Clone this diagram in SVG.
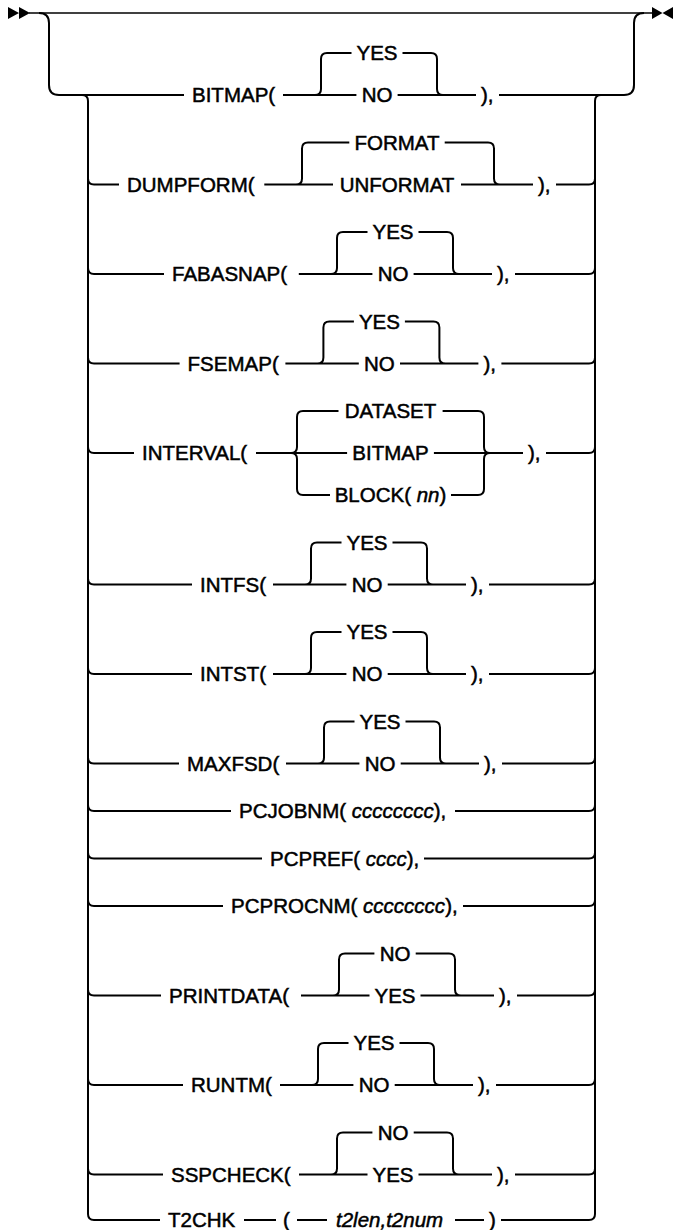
<svg xmlns="http://www.w3.org/2000/svg" width="673" height="1230" viewBox="0 0 673 1230">
<style>
.l{fill:none;stroke:#000;stroke-width:2}
.m{fill:#000}
text{font-family:"Liberation Sans",Arial,sans-serif;font-size:20.5px;font-weight:normal;fill:#000;stroke:#000;stroke-width:0.5px}
.i{font-style:italic}
.c{text-anchor:middle}
</style>
<rect width="673" height="1230" fill="#fff"/>
<g id="connectors">
<path class="m" d="M8 7L19 13L8 19Z M19 7L30 13L19 19Z"/>
<path class="m" d="M652 7L662.5 13L652 19Z M673 7L662.5 13L673 19Z"/>
<path class="l" style="stroke-width:1.6" d="M29 13H653"/>
<path class="l" d="M39 13Q49 13 49 23V85Q49 95 59 95H184"/>
<path class="l" d="M499 95H624Q634 95 634 85V23Q634 13 644 13"/>
<path class="l" d="M82 95Q88 95 88 101V1214Q88 1220 94 1220"/>
<path class="l" d="M601 95Q595 95 595 101V1214Q595 1220 589 1220"/>
<!-- BITMAP -->
<path class="l" d="M283 95H356.4M397.6 95H476M315 95Q321 95 321 89V59Q321 53 327 53H351.5M402.5 53H431Q437 53 437 59V89Q437 95 443 95"/>
<!-- DUMPFORM -->
<path class="l" d="M88 178.5Q88 184.5 94 184.5H119M264.3 184.5H333M461 184.5H533M296 184.5Q302 184.5 302 178.5V148.5Q302 142.5 308 142.5H349.3M444.7 142.5H488Q494 142.5 494 148.5V178.5Q494 184.5 500 184.5M556 184.5H589Q595 184.5 595 178.5"/>
<!-- FABASNAP -->
<path class="l" d="M88 268Q88 274 94 274H164M298.8 274H372.4M413.6 274H492M331 274Q337 274 337 268V238Q337 232 343 232H367.5M418.5 232H447Q453 232 453 238V268Q453 274 459 274M515 274H589Q595 274 595 268"/>
<!-- FSEMAP -->
<path class="l" d="M88 357.5Q88 363.5 94 363.5H179.6M285.4 363.5H358.8M400 363.5H478.4M317.4 363.5Q323.4 363.5 323.4 357.5V327.5Q323.4 321.5 329.4 321.5H353.9M404.9 321.5H433.4Q439.4 321.5 439.4 327.5V357.5Q439.4 363.5 445.4 363.5M501.4 363.5H589Q595 363.5 595 357.5"/>
<!-- INTERVAL -->
<path class="l" d="M88 447Q88 453 94 453H134M256 453H347.1M433.9 453H523M291 453Q297 453 297 447V417Q297 411 303 411H338.5M291 453Q297 453 297 459V489Q297 495 303 495H330M442.6 411H478Q484 411 484 417V447Q484 453 490 453M451 495H478Q484 495 484 489V459Q484 453 490 453M546 453H589Q595 453 595 447"/>
<!-- INTFS -->
<path class="l" d="M88 578.5Q88 584.5 94 584.5H192M273 584.5H346.4M387.7 584.5H466M305 584.5Q311 584.5 311 578.5V548.5Q311 542.5 317 542.5H341.5M392.5 542.5H421Q427 542.5 427 548.5V578.5Q427 584.5 433 584.5M489 584.5H589Q595 584.5 595 578.5"/>
<!-- INTST -->
<path class="l" d="M88 668Q88 674 94 674H192M273 674H346.4M387.7 674H466M305 674Q311 674 311 668V638Q311 632 317 632H341.5M392.5 632H421Q427 632 427 638V668Q427 674 433 674M489 674H589Q595 674 595 668"/>
<!-- MAXFSD -->
<path class="l" d="M88 757.5Q88 763.5 94 763.5H179M286 763.5H359.4M400.7 763.5H479M318 763.5Q324 763.5 324 757.5V727.5Q324 721.5 330 721.5H354.5M405.5 721.5H434Q440 721.5 440 727.5V757.5Q440 763.5 446 763.5M502 763.5H589Q595 763.5 595 757.5"/>
<!-- PCJOBNM PCPREF PCPROCNM -->
<path class="l" d="M88 805Q88 811 94 811H231M455 811H589Q595 811 595 805"/>
<path class="l" d="M88 852.5Q88 858.5 94 858.5H262M424 858.5H589Q595 858.5 595 852.5"/>
<path class="l" d="M88 900Q88 906 94 906H223M463 906H589Q595 906 595 900"/>
<!-- PRINTDATA -->
<path class="l" d="M88 989.5Q88 995.5 94 995.5H161M301 995.5H369.5M420.5 995.5H494M333 995.5Q339 995.5 339 989.5V959.5Q339 953.5 345 953.5H374.4M415.7 953.5H449Q455 953.5 455 959.5V989.5Q455 995.5 461 995.5M517 995.5H589Q595 995.5 595 989.5"/>
<!-- RUNTM -->
<path class="l" d="M88 1079Q88 1085 94 1085H183M280 1085H353.4M394.7 1085H473M312 1085Q318 1085 318 1079V1049Q318 1043 324 1043H348.5M399.5 1043H428Q434 1043 434 1049V1079Q434 1085 440 1085M496 1085H589Q595 1085 595 1079"/>
<!-- SSPCHECK -->
<path class="l" d="M88 1168.5Q88 1174.5 94 1174.5H163M299 1174.5H367.5M418.5 1174.5H492M331 1174.5Q337 1174.5 337 1168.5V1138.5Q337 1132.5 343 1132.5H372.4M413.7 1132.5H447Q453 1132.5 453 1138.5V1168.5Q453 1174.5 459 1174.5M515 1174.5H589Q595 1174.5 595 1168.5"/>
<!-- T2CHK -->
<path class="l" d="M94 1220H160M244 1220H276M297 1220H327M455 1220H484M501 1220H589"/>
</g>
<g id="bitmap"><text x="192" y="102">BITMAP(</text><text class="c" x="377" y="60">YES</text><text class="c" x="377" y="102">NO</text><text x="481" y="102">),</text></g>
<g id="dumpform"><text x="127" y="191.5">DUMPFORM(</text><text class="c" x="397" y="149.5">FORMAT</text><text class="c" x="397" y="191.5">UNFORMAT</text><text x="538" y="191.5">),</text></g>
<g id="fabasnap"><text x="172" y="281">FABASNAP(</text><text class="c" x="393" y="239">YES</text><text class="c" x="393" y="281">NO</text><text x="497" y="281">),</text></g>
<g id="fsemap"><text x="187.6" y="370.5">FSEMAP(</text><text class="c" x="379.4" y="328.5">YES</text><text class="c" x="379.4" y="370.5">NO</text><text x="483.4" y="370.5">),</text></g>
<g id="interval"><text x="142" y="460">INTERVAL(</text><text class="c" x="390.5" y="418">DATASET</text><text class="c" x="390.5" y="460">BITMAP</text><text class="c" x="390.5" y="502">BLOCK(<tspan class="i"> nn</tspan>)</text><text x="528" y="460">),</text></g>
<g id="intfs"><text x="200" y="591.5">INTFS(</text><text class="c" x="367" y="549.5">YES</text><text class="c" x="367" y="591.5">NO</text><text x="471" y="591.5">),</text></g>
<g id="intst"><text x="200" y="681">INTST(</text><text class="c" x="367" y="639">YES</text><text class="c" x="367" y="681">NO</text><text x="471" y="681">),</text></g>
<g id="maxfsd"><text x="187" y="770.5">MAXFSD(</text><text class="c" x="380" y="728.5">YES</text><text class="c" x="380" y="770.5">NO</text><text x="484" y="770.5">),</text></g>
<g id="pcjobnm"><text x="239" y="818">PCJOBNM(<tspan class="i"> cccccccc</tspan>),</text></g>
<g id="pcpref"><text x="270" y="865.5">PCPREF(<tspan class="i"> cccc</tspan>),</text></g>
<g id="pcprocnm"><text x="231" y="913">PCPROCNM(<tspan class="i"> cccccccc</tspan>),</text></g>
<g id="printdata"><text x="169" y="1002.5">PRINTDATA(</text><text class="c" x="395" y="960.5">NO</text><text class="c" x="395" y="1002.5">YES</text><text x="499" y="1002.5">),</text></g>
<g id="runtm"><text x="191" y="1092">RUNTM(</text><text class="c" x="374" y="1050">YES</text><text class="c" x="374" y="1092">NO</text><text x="478" y="1092">),</text></g>
<g id="sspcheck"><text x="171" y="1181.5">SSPCHECK(</text><text class="c" x="393" y="1139.5">NO</text><text class="c" x="393" y="1181.5">YES</text><text x="497" y="1181.5">),</text></g>
<g id="t2chk"><text x="168" y="1227">T2CHK</text><text x="283" y="1227">(</text><text class="i" x="336" y="1227">t2len,t2num</text><text x="489" y="1227">)</text></g>
</svg>
